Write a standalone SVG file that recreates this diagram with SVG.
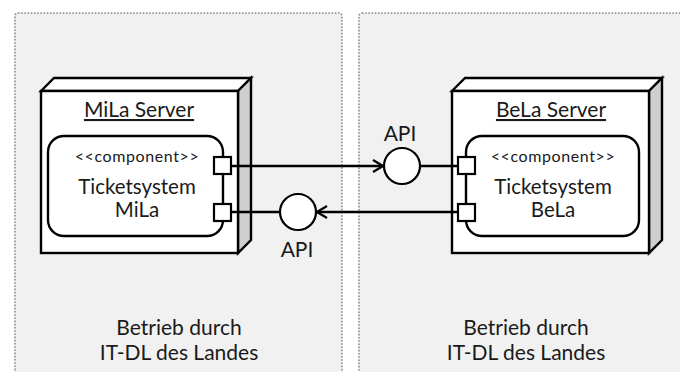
<svg xmlns="http://www.w3.org/2000/svg" width="680" height="372" viewBox="0 0 680 372">
<style>
.cont{fill:#f1f1f1;stroke:#8a8a8a;stroke-width:1.6;stroke-dasharray:1.6 1.6}
.box{fill:#fff;stroke:#000;stroke-width:2.4;stroke-linejoin:miter}
.side{fill:#cfcfcf;stroke:#000;stroke-width:2.4}
.comp{fill:#fff;stroke:#000;stroke-width:2.4}
.port{fill:#fff;stroke:#000;stroke-width:2.2}
.ln{fill:none;stroke:#000;stroke-width:2.4}
.iface{fill:#fff;stroke:#000;stroke-width:2.2}
text{font-family:Lato,"Open Sans","DejaVu Sans",sans-serif;fill:#1a1a1a;text-anchor:middle}
.title{font-size:21px;text-decoration:underline}
.st{font-size:16px;letter-spacing:0.6px}
.nm{font-size:20.5px}
.lbl{font-size:21px}
.big{font-size:21px}
</style>
<defs>
<marker id="open" viewBox="0 0 12 14" refX="11" refY="7" markerWidth="12" markerHeight="14" markerUnits="userSpaceOnUse" orient="auto">
<path d="M1,1 L11,7 L1,13" fill="none" stroke="#000" stroke-width="2.2"/>
</marker>
</defs>
<g id="zone-left">
<rect class="cont" x="15" y="13" width="327" height="380" rx="3"/>
<text class="big" x="179" y="335">Betrieb durch</text>
<text class="big" x="179" y="360">IT-DL des Landes</text>
</g>
<g id="zone-right">
<rect class="cont" x="359" y="13" width="340" height="380" rx="3"/>
<text class="big" x="526" y="335">Betrieb durch</text>
<text class="big" x="526" y="360">IT-DL des Landes</text>
</g>
<g id="node-mila">
<path class="box" d="M41,91 L54,78 L251,78 L238,91 Z"/>
<path class="side" d="M238,91 L251,78 L251,240 L238,253 Z"/>
<rect class="box" x="41" y="91" width="197" height="162"/>
<text class="title" x="139" y="117">MiLa Server</text>
</g>
<g id="comp-mila">
<rect class="comp" x="48" y="136" width="175" height="100" rx="16"/>
<text class="st" x="137" y="162">&lt;&lt;component&gt;&gt;</text>
<text class="nm" x="137" y="194">Ticketsystem</text>
<text class="nm" x="137" y="217">MiLa</text>
<rect class="port" x="214" y="157" width="17" height="17"/>
<rect class="port" x="214" y="204" width="17" height="17"/>
</g>
<g id="node-bela">
<path class="box" d="M452,91 L465,78 L662,78 L649,91 Z"/>
<path class="side" d="M649,91 L662,78 L662,240 L649,253 Z"/>
<rect class="box" x="452" y="91" width="197" height="162"/>
<text class="title" x="551" y="117">BeLa Server</text>
</g>
<g id="comp-bela">
<rect class="comp" x="466" y="136" width="173" height="100" rx="16"/>
<text class="st" x="553" y="162">&lt;&lt;component&gt;&gt;</text>
<text class="nm" x="553" y="194">Ticketsystem</text>
<text class="nm" x="553" y="217">BeLa</text>
<rect class="port" x="458" y="157" width="17" height="17"/>
<rect class="port" x="458" y="204" width="17" height="17"/>
</g>
<g id="iface-bela">
<circle class="iface" cx="402" cy="166" r="18"/>
<text class="lbl" x="400" y="141">API</text>
</g>
<g id="iface-mila">
<circle class="iface" cx="298" cy="212" r="18"/>
<text class="lbl" x="297" y="257">API</text>
</g>
<g id="connectors">
<line class="ln" x1="231" y1="166" x2="383" y2="166" marker-end="url(#open)"/>
<line class="ln" x1="420" y1="166" x2="458" y2="166"/>
<line class="ln" x1="458" y1="212" x2="317" y2="212" marker-end="url(#open)"/>
<line class="ln" x1="231" y1="212" x2="280" y2="212"/>
</g>
</svg>
